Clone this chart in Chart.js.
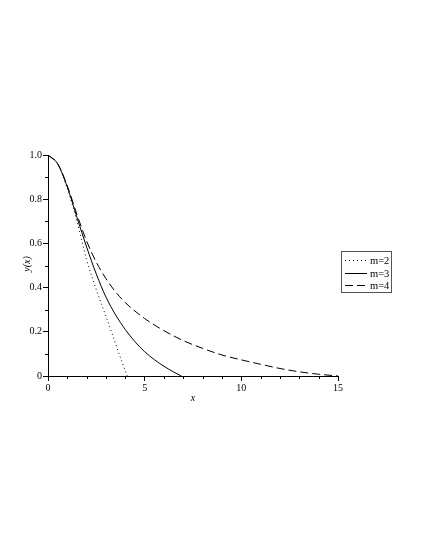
<!DOCTYPE html>
<html>
<head>
<meta charset="utf-8">
<script src="https://cdn.jsdelivr.net/npm/chart.js@4.4.1/dist/chart.umd.min.js"></script>
<style>
  html, body { margin: 0; padding: 0; background: #fff; }
  #wrap { width: 425px; height: 550px; }
</style>
</head>
<body>
<div id="wrap"><canvas id="c" width="425" height="550"></canvas></div>
<script>
// values
const xM2 = [0, 0.5, 1, 1.5, 2, 2.5, 3, 3.5, 3.8, 4.1];
const yM2 = [1, 0.96, 0.849, 0.70, 0.525, 0.39, 0.27, 0.145, 0.07, 0];

const xM3 = [0, 0.5, 1, 1.5, 2, 2.5, 3, 3.5, 4, 4.5, 5, 5.5, 6, 6.5, 6.9];
const yM3 = [1, 0.96, 0.855, 0.717, 0.583, 0.461, 0.357, 0.276, 0.21, 0.155, 0.11, 0.074, 0.044, 0.018, 0];

const xM4 = [0, 0.5, 1, 1.5, 2, 2.5, 3, 3.5, 4, 5, 6, 7, 8, 9, 10, 11, 12, 13, 14, 15];
const yM4 = [1, 0.96, 0.86, 0.73, 0.61, 0.515, 0.44, 0.38, 0.332, 0.26, 0.205, 0.16, 0.125, 0.095, 0.073, 0.053, 0.034, 0.019, 0.008, 0];

const seriesNames = ['m=2', 'm=3', 'm=4'];
const dashes = [[1, 3], [], [8, 4]];

const xTickLabels = [0, 5, 10, 15];
const yTickLabels = [0, 0.2, 0.4, 0.6, 0.8, 1.0];

const FONT = '"Liberation Serif", "DejaVu Serif", serif';

function pts(xs, ys) {
    return xs.map((x, i) => ({ x, y: ys[i] }));
}

const series = [pts(xM2, yM2), pts(xM3, yM3), pts(xM4, yM4)];

const isMajorX = (v) => xTickLabels.some(t => Math.abs(t - v) < 1e-6);
const isMajorY = (v) => yTickLabels.some(t => Math.abs(t - v) < 1e-6);

// minor ticks, axis titles and the boxed legend
const decor = {
    id: 'decor',
    afterDraw(chart) {
        const ctx = chart.ctx;
        const xs = chart.scales.x, ys = chart.scales.y;
        const area = chart.chartArea;
        ctx.save();
        ctx.strokeStyle = '#000';
        ctx.lineWidth = 1;
        ctx.beginPath();
        for (let v = 0; v <= 15; v++) {
            if (isMajorX(v)) continue;
            const px = Math.round(xs.getPixelForValue(v)) + 0.5;
            ctx.moveTo(px, area.bottom);
            ctx.lineTo(px, area.bottom + 3);
        }
        for (let k = 1; k < 10; k += 2) {
            const py = Math.round(ys.getPixelForValue(k / 10)) + 0.5;
            ctx.moveTo(area.left - 3, py);
            ctx.lineTo(area.left, py);
        }
        ctx.stroke();

        // axis titles
        ctx.fillStyle = '#000';
        ctx.font = 'italic 10px ' + FONT;
        ctx.textAlign = 'center';
        ctx.textBaseline = 'middle';
        ctx.fillText('x', (area.left + area.right) / 2, 398);
        ctx.save();
        ctx.translate(27, 264);
        ctx.rotate(-Math.PI / 2);
        ctx.fillText('y(x)', 0, 0);
        ctx.restore();

        // legend
        const bx = 341, by = 251, bw = 50, bh = 41;
        ctx.strokeStyle = '#555';
        ctx.strokeRect(bx + 0.5, by + 0.5, bw, bh);
        ctx.font = '10.5px ' + FONT;
        ctx.textAlign = 'left';
        seriesNames.forEach((name, i) => {
            const cy = Math.round(by + 9 + i * 12.5) + 0.5;
            ctx.strokeStyle = '#000';
            ctx.setLineDash(dashes[i]);
            ctx.beginPath();
            ctx.moveTo(bx + 4, cy);
            ctx.lineTo(bx + 26, cy);
            ctx.stroke();
            ctx.setLineDash([]);
            ctx.fillText(name, bx + 29, cy + 0.5);
        });
        ctx.restore();
    }
};

new Chart(document.getElementById('c').getContext('2d'), {
    type: 'scatter',
    data: {
        datasets: series.map((data, i) => ({
            label: seriesNames[i],
            data,
            showLine: true,
            borderColor: '#000',
            borderWidth: 1,
            borderDash: dashes[i],
            pointRadius: 0,
            cubicInterpolationMode: 'monotone',
            fill: false
        }))
    },
    options: {
        responsive: false,
        animation: false,
        layout: { padding: { left: 0, top: 155, right: 87, bottom: 0 } },
        plugins: { legend: { display: false }, tooltip: { enabled: false } },
        scales: {
            x: {
                type: 'linear',
                min: 0, max: 15,
                afterFit: (s) => { s.height = 174; },
                border: { display: true, color: '#000', width: 1 },
                grid: {
                    drawOnChartArea: false,
                    tickLength: 5,
                    tickColor: (c) => (c.tick && isMajorX(c.tick.value)) ? '#000' : 'rgba(0,0,0,0)'
                },
                ticks: {
                    stepSize: 1,
                    padding: 1,
                    color: '#000',
                    font: { family: FONT, size: 10 },
                    maxRotation: 0,
                    autoSkip: false,
                    callback: (v) => isMajorX(v) ? String(v) : ''
                }
            },
            y: {
                type: 'linear',
                min: 0, max: 1,
                afterFit: (s) => { s.width = 48; },
                border: { display: true, color: '#000', width: 1 },
                grid: {
                    drawOnChartArea: false,
                    tickLength: 5,
                    tickColor: (c) => (c.tick && isMajorY(c.tick.value)) ? '#000' : 'rgba(0,0,0,0)'
                },
                ticks: {
                    stepSize: 0.1,
                    padding: 1,
                    color: '#000',
                    font: { family: FONT, size: 10 },
                    autoSkip: false,
                    callback: (v) => {
                        if (!isMajorY(v)) return '';
                        return Math.abs(v) < 1e-9 ? '0' : Number(v).toFixed(1);
                    }
                }
            }
        }
    },
    plugins: [decor]
});
</script>
</body>
</html>
